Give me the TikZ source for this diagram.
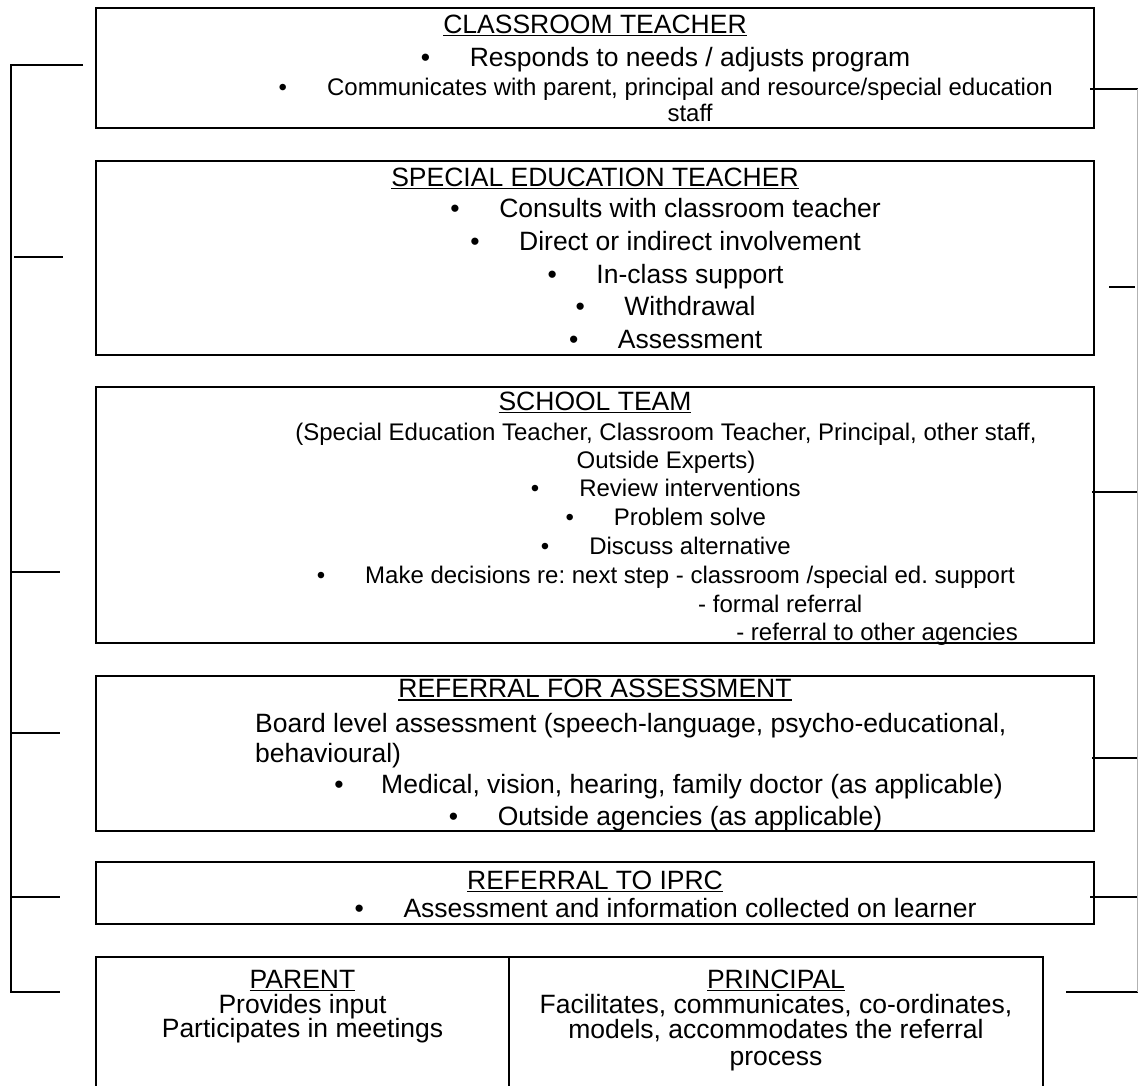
\documentclass[tikz,border=0pt]{standalone}
\usepackage{fontspec}
\setmainfont{Liberation Sans}
\frenchspacing
\newcommand\myul[1]{\setbox0\hbox{#1}\rlap{\rule[-3.4pt]{\wd0}{1.7pt}}\box0}
\tikzset{
  box/.style={draw, line width=2pt, inner sep=0pt},
  big/.style={font=\fontsize{26.5}{30}\selectfont, inner sep=0pt, anchor=base},
  small/.style={font=\fontsize{24}{28}\selectfont, inner sep=0pt, anchor=base},
  conn/.style={line width=1.6pt},
  faint/.style={line width=1.2pt, draw=black!30}
}
\begin{document}
\frenchspacing
\begin{tikzpicture}[x=1pt,y=-1pt]
\useasboundingbox (0,0) rectangle (1138,1085);
% boxes
\node[box, minimum width=998pt, minimum height=120pt] (b1) at (595,68) {};
\node[box, minimum width=998pt, minimum height=194pt] (b2) at (595,258) {};
\node[box, minimum width=998pt, minimum height=256pt] (b3) at (595,515) {};
\node[box, minimum width=998pt, minimum height=155pt] (b4) at (595,753.5) {};
\node[box, minimum width=998pt, minimum height=62pt] (b5) at (595,893) {};
\node[box, minimum width=413pt, minimum height=138pt] (b6a) at (302.5,1026) {};
\node[box, minimum width=534pt, minimum height=138pt] (b6b) at (776,1026) {};
% box 1
\node[big] (h1) at (595,33) {\myul{CLASSROOM TEACHER}};
\node[big] (t11) at (690,66) {Responds to needs / adjusts program};
\node[big] (p11) at ([xshift=-44pt]t11.base west) {•};
\node[small] (t12) at (690,95) {Communicates with parent, principal and resource/special education};
\node[small] (p12) at ([xshift=-44pt]t12.base west) {•};
\node[small] (t13) at (690,121.5) {staff};
% box 2
\node[big] (h2) at (595,186) {\myul{SPECIAL EDUCATION TEACHER}};
\node[big] (t21) at (690,217.5) {Consults with classroom teacher};
\node[big] (p21) at ([xshift=-44pt]t21.base west) {•};
\node[big] (t22) at (690,250) {Direct or indirect involvement};
\node[big] (p22) at ([xshift=-44pt]t22.base west) {•};
\node[big] (t23) at (690,283) {In-class support};
\node[big] (p23) at ([xshift=-44pt]t23.base west) {•};
\node[big] (t24) at (690,315.5) {Withdrawal};
\node[big] (p24) at ([xshift=-44pt]t24.base west) {•};
\node[big] (t25) at (690,348) {Assessment};
\node[big] (p25) at ([xshift=-44pt]t25.base west) {•};
% box 3
\node[big] (h3) at (595,410) {\myul{SCHOOL TEAM}};
\node[small] (t31) at (666,440) {(Special Education Teacher, Classroom Teacher, Principal, other staff,};
\node[small] (t32) at (666,468) {Outside Experts)};
\node[small] (t33) at (690,496.5) {Review interventions};
\node[small] (p33) at ([xshift=-44pt]t33.base west) {•};
\node[small] (t34) at (690,525) {Problem solve};
\node[small] (p34) at ([xshift=-44pt]t34.base west) {•};
\node[small] (t35) at (690,554) {Discuss alternative};
\node[small] (p35) at ([xshift=-44pt]t35.base west) {•};
\node[small] (t36) at (690,583) {Make decisions re: next step - classroom /special ed. support};
\node[small] (p36) at ([xshift=-44pt]t36.base west) {•};
\node[small, anchor=base west] (t37) at (698,612) {- formal referral};
\node[small, anchor=base east] (t38) at (1018,640) {- referral to other agencies};
% box 4
\node[big] (h4) at (595,697.5) {\myul{REFERRAL FOR ASSESSMENT}};
\node[big, anchor=base west] (t41) at (255,732) {Board level assessment (speech-language, psycho-educational,};
\node[big, anchor=base west] (t42) at (255,762) {behavioural)};
\node[big] (t43) at (692,793) {Medical, vision, hearing, family doctor (as applicable)};
\node[big] (p43) at ([xshift=-42pt]t43.base west) {•};
\node[big] (t44) at (690,825) {Outside agencies (as applicable)};
\node[big] (p44) at ([xshift=-44pt]t44.base west) {•};
% box 5
\node[big] (h5) at (595,889) {\myul{REFERRAL TO IPRC}};
\node[big] (t51) at (690,917) {Assessment and information collected on learner};
\node[big] (p51) at ([xshift=-44pt]t51.base west) {•};
% box 6
\node[big] (h6a) at (302.5,988) {\myul{PARENT}};
\node[big] (t61) at (302.5,1013) {Provides input};
\node[big] (t62) at (302.5,1037) {Participates in meetings};
\node[big] (h6b) at (776,988) {\myul{PRINCIPAL}};
\node[big] (t63) at (776,1013) {Facilitates, communicates, co-ordinates,};
\node[big] (t64) at (776,1038) {models, accommodates the referral};
\node[big] (t65) at (776,1065) {process};
% connectors, left
\coordinate (L1) at (83,65);
\coordinate (LT) at (11,65);
\coordinate (LB) at (11,992);
\coordinate (L6) at (60,992);
\draw[conn, line join=miter] (L1) -- (LT) -- (LB) -- (L6);
\coordinate (L2a) at (14,257); \coordinate (L2b) at (63,257);
\coordinate (L3a) at (11,572); \coordinate (L3b) at (60,572);
\coordinate (L4a) at (11,733); \coordinate (L4b) at (60,733);
\coordinate (L5a) at (11,897); \coordinate (L5b) at (60,897);
\draw[conn] (L2a) -- (L2b);
\draw[conn] (L3a) -- (L3b);
\draw[conn] (L4a) -- (L4b);
\draw[conn] (L5a) -- (L5b);
% connectors, right
\coordinate (R1a) at (1090,89); \coordinate (R1b) at (1138,89);
\coordinate (R2a) at (1109,287); \coordinate (R2b) at (1135,287);
\coordinate (R3a) at (1092,492); \coordinate (R3b) at (1138,492);
\coordinate (R4a) at (1092,758); \coordinate (R4b) at (1138,758);
\coordinate (R5a) at (1090,897); \coordinate (R5b) at (1138,897);
\coordinate (R6a) at (1066,992); \coordinate (R6b) at (1138,992);
\draw[conn] (R1a) -- (R1b);
\draw[conn] (R2a) -- (R2b);
\draw[conn] (R3a) -- (R3b);
\draw[conn] (R4a) -- (R4b);
\draw[conn] (R5a) -- (R5b);
\draw[conn] (R6a) -- (R6b);
\draw[faint] (R1b) -- (R6b);
\end{tikzpicture}
\end{document}
